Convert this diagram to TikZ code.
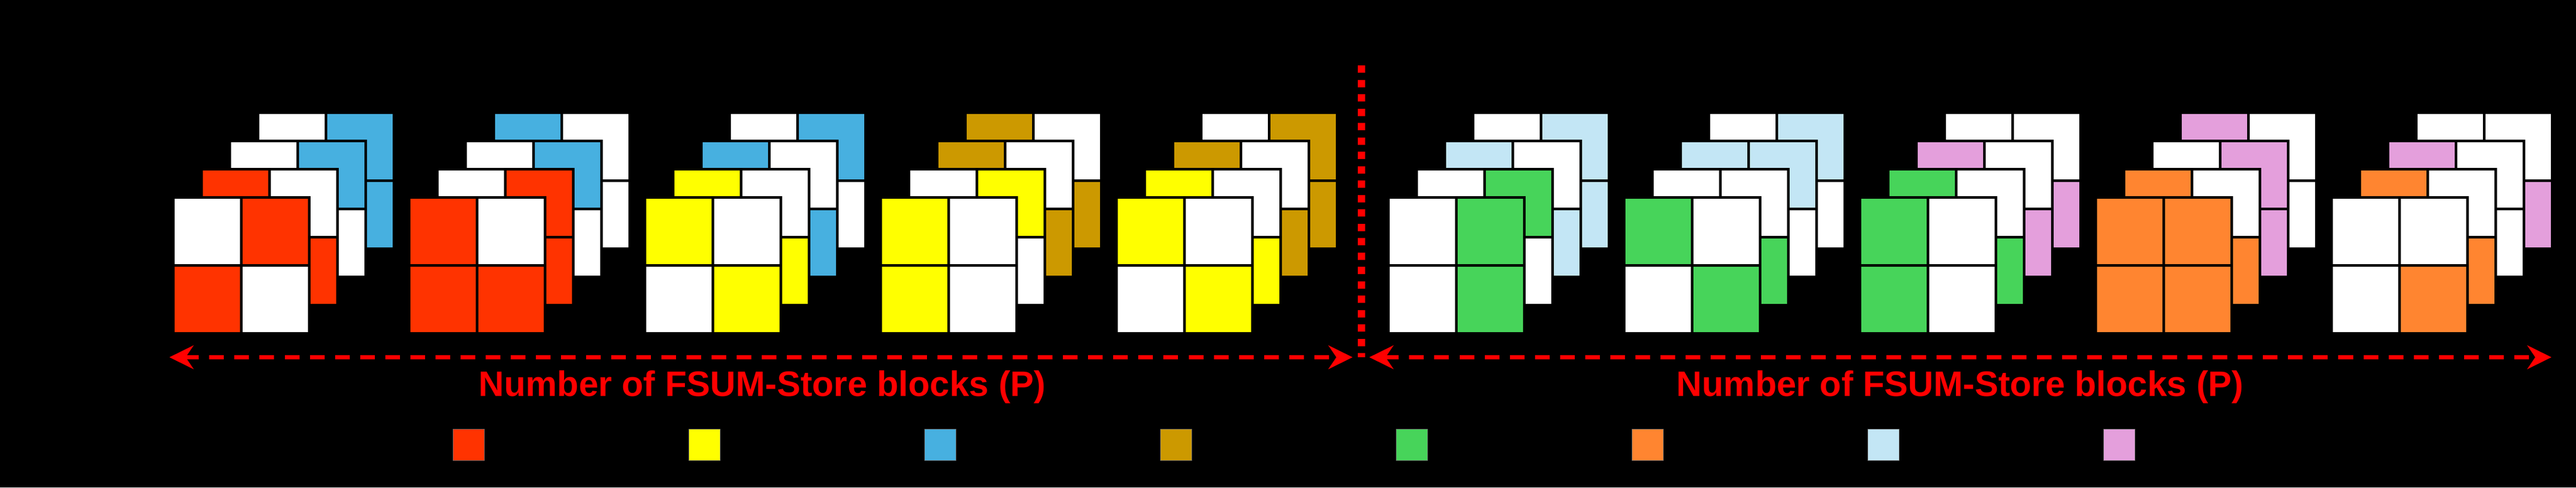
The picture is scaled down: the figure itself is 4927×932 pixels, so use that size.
\documentclass[tikz,border=0pt]{standalone}
\usepackage{fontspec}
\setmainfont{Liberation Sans}
\usetikzlibrary{arrows.meta}
\definecolor{fsred}{RGB}{255,51,0}
\definecolor{fsyellow}{RGB}{255,255,0}
\definecolor{fsblue}{RGB}{71,176,224}
\definecolor{fsgold}{RGB}{204,153,0}
\definecolor{fsgreen}{RGB}{71,212,90}
\definecolor{fsorange}{RGB}{255,133,48}
\definecolor{fslightblue}{RGB}{195,230,245}
\definecolor{fspink}{RGB}{228,159,220}
\tikzset{
	cell/.style={draw=black, line width=0.05cm},
	keybox/.style={draw=black!60, line width=0.01cm},
	pspan/.style={draw=red, line width=0.075cm, dash pattern=on 0.28cm off 0.2cm,
		{Stealth[length=0.46cm,width=0.45cm,inset=0.15cm]}-{Stealth[length=0.46cm,width=0.45cm,inset=0.15cm]}},
	divider/.style={draw=red, line width=0.14cm, dash pattern=on 0.14cm off 0.135cm},
	spanlabel/.style={text=red, font=\fontsize{19.2pt}{22pt}\selectfont\bfseries, anchor=base, inner sep=0pt}
}
% one 2x2 layer: #1 block x, #2 depth (0 = front), #3-#6 colours TL TR BL BR
\newcommand{\gridlayer}[6]{%
	\begin{scope}[shift={({#1+54*#2},{377.5-54*#2})}]
		\draw[cell, fill=#3] (0,0) rectangle (130,130);
		\draw[cell, fill=#4] (130,0) rectangle (260,130);
		\draw[cell, fill=#5] (0,130) rectangle (130,260);
		\draw[cell, fill=#6] (130,130) rectangle (260,260);
	\end{scope}}
\begin{document}
\begin{tikzpicture}[x=0.01cm,y=-0.01cm]
	\fill[black] (0,0) rectangle (4927,932);
	\useasboundingbox (0,0) rectangle (4927,932);
	% block 1
	\gridlayer{331.5}{3}{white}{fsblue}{white}{fsblue}
	\gridlayer{331.5}{2}{white}{fsblue}{white}{white}
	\gridlayer{331.5}{1}{fsred}{white}{white}{fsred}
	\gridlayer{331.5}{0}{white}{fsred}{fsred}{white}
	% block 2
	\gridlayer{782.5}{3}{fsblue}{white}{white}{white}
	\gridlayer{782.5}{2}{white}{fsblue}{white}{white}
	\gridlayer{782.5}{1}{white}{fsred}{white}{fsred}
	\gridlayer{782.5}{0}{fsred}{white}{fsred}{fsred}
	% block 3
	\gridlayer{1233.5}{3}{white}{fsblue}{white}{white}
	\gridlayer{1233.5}{2}{fsblue}{white}{white}{fsblue}
	\gridlayer{1233.5}{1}{fsyellow}{white}{white}{fsyellow}
	\gridlayer{1233.5}{0}{fsyellow}{white}{white}{fsyellow}
	% block 4
	\gridlayer{1684.5}{3}{fsgold}{white}{white}{fsgold}
	\gridlayer{1684.5}{2}{fsgold}{white}{white}{fsgold}
	\gridlayer{1684.5}{1}{white}{fsyellow}{white}{white}
	\gridlayer{1684.5}{0}{fsyellow}{white}{fsyellow}{white}
	% block 5
	\gridlayer{2135.5}{3}{white}{fsgold}{white}{fsgold}
	\gridlayer{2135.5}{2}{fsgold}{white}{white}{fsgold}
	\gridlayer{2135.5}{1}{fsyellow}{white}{white}{fsyellow}
	\gridlayer{2135.5}{0}{fsyellow}{white}{white}{fsyellow}
	% block 6
	\gridlayer{2655.5}{3}{white}{fslightblue}{white}{fslightblue}
	\gridlayer{2655.5}{2}{fslightblue}{white}{white}{fslightblue}
	\gridlayer{2655.5}{1}{white}{fsgreen}{white}{white}
	\gridlayer{2655.5}{0}{white}{fsgreen}{white}{fsgreen}
	% block 7
	\gridlayer{3106.5}{3}{white}{fslightblue}{white}{white}
	\gridlayer{3106.5}{2}{fslightblue}{fslightblue}{white}{white}
	\gridlayer{3106.5}{1}{white}{white}{white}{fsgreen}
	\gridlayer{3106.5}{0}{fsgreen}{white}{white}{fsgreen}
	% block 8
	\gridlayer{3557.5}{3}{white}{white}{white}{fspink}
	\gridlayer{3557.5}{2}{fspink}{white}{white}{fspink}
	\gridlayer{3557.5}{1}{fsgreen}{white}{white}{fsgreen}
	\gridlayer{3557.5}{0}{fsgreen}{white}{fsgreen}{white}
	% block 9
	\gridlayer{4008.5}{3}{fspink}{white}{white}{white}
	\gridlayer{4008.5}{2}{white}{fspink}{white}{fspink}
	\gridlayer{4008.5}{1}{fsorange}{white}{white}{fsorange}
	\gridlayer{4008.5}{0}{fsorange}{fsorange}{fsorange}{fsorange}
	% block 10
	\gridlayer{4459.5}{3}{white}{white}{white}{fspink}
	\gridlayer{4459.5}{2}{fspink}{white}{white}{white}
	\gridlayer{4459.5}{1}{fsorange}{white}{white}{fsorange}
	\gridlayer{4459.5}{0}{white}{white}{white}{fsorange}
	% divider and ranges
	\coordinate (divtop) at (2604,125);
	\coordinate (divbot) at (2604,683);
	\draw[divider] (divtop) -- (divbot);
	\coordinate (la) at (324,683);
	\coordinate (lb) at (2587,683);
	\coordinate (ra) at (2619,683);
	\coordinate (rb) at (4880,683);
	\draw[pspan] (la) -- (lb);
	\draw[pspan] (ra) -- (rb);
	\node[spanlabel] (leftlabel) at (1458,757) {Number of FSUM-Store blocks (P)};
	\node[spanlabel] (rightlabel) at (3749,757) {Number of FSUM-Store blocks (P)};
	% legend keys
	\foreach \c [count=\i from 0] in {fsred,fsyellow,fsblue,fsgold,fsgreen,fsorange,fslightblue,fspink}
		\draw[keybox, fill=\c] ({866+451*\i},820) rectangle ++(60,60);
\end{tikzpicture}
\end{document}
